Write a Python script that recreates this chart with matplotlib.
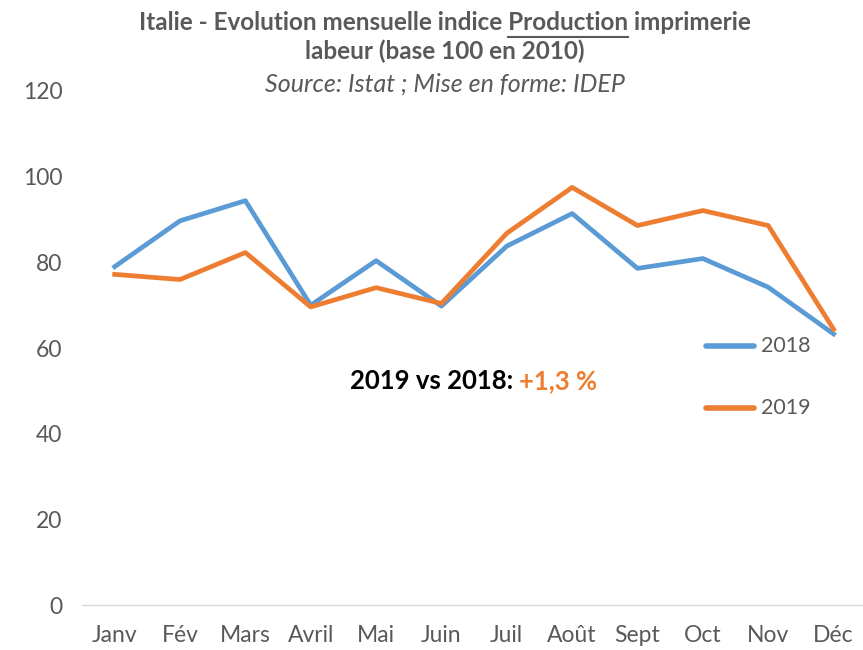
import matplotlib.pyplot as plt
from matplotlib.lines import Line2D

plt.rcParams['font.family'] = ['Lato', 'DejaVu Sans']

months = ['Janv', 'Fév', 'Mars', 'Avril', 'Mai', 'Juin', 'Juil', 'Août', 'Sept', 'Oct', 'Nov', 'Déc']
prod_2018 = [79.0, 89.7, 94.4, 70.0, 80.4, 69.8, 83.8, 91.4, 78.6, 80.9, 74.2, 63.3]
prod_2019 = [77.2, 76.0, 82.3, 69.6, 74.1, 70.4, 86.8, 97.5, 88.6, 92.1, 88.6, 64.4]
yticks = [0, 20, 40, 60, 80, 100, 120]

BLUE = '#5B9BD5'
ORANGE = '#ED7D31'
GREY = '#595959'

fig = plt.figure(figsize=(8.63, 6.5), dpi=100)
ax = fig.add_axes([0.095, 0.069, 0.905, 0.791])

x = range(len(months))
ax.plot(x, prod_2018, color=BLUE, linewidth=3.4, solid_joinstyle='round')
ax.plot(x, prod_2019, color=ORANGE, linewidth=3.4, solid_joinstyle='round')

ax.set_xlim(-0.5, 11.45)
ax.set_ylim(0, 120)
ax.set_yticks(yticks)
ax.set_xticks(list(x))
ax.set_xticklabels(months)
ax.tick_params(length=0, labelsize=16.5, labelcolor=GREY)
ax.tick_params(axis='x', pad=14)
ax.tick_params(axis='y', pad=14)
for s in ['top', 'right', 'left']:
    ax.spines[s].set_visible(False)
ax.spines['bottom'].set_color('#D9D9D9')
ax.spines['bottom'].set_linewidth(1)

# legend drawn by hand
for yy, col, lab in [(346, BLUE, '2018'), (408, ORANGE, '2019')]:
    fy = 1 - yy / 650
    fig.add_artist(Line2D([706 / 863, 754 / 863], [fy, fy], color=col,
                          linewidth=4, solid_capstyle='round'))
    fig.text(761 / 863, fy, lab, fontsize=15.5, color=GREY, va='center', ha='left')

# annotation
ANN = 18.5
t1 = fig.text(350 / 863, 1 - 381 / 650, '2019 vs 2018:', fontsize=ANN, fontweight='bold',
              color='black', va='center', ha='left')
fig.canvas.draw()
r = fig.canvas.get_renderer()
bb = t1.get_window_extent(r)
fig.text((bb.x1 + 6) / fig.bbox.width, 1 - 381 / 650, '+1,3 %', fontsize=ANN,
         fontweight='bold', color=ORANGE, va='center', ha='left')

# title
TS = 17.5
cx = 445 / 863
line1 = 'Italie - Evolution mensuelle indice Production imprimerie'
tt = fig.text(cx, 1 - 22 / 650, line1, fontsize=TS, fontweight='bold', color=GREY,
              ha='center', va='center')
fig.text(cx, 1 - 51 / 650, 'labeur (base 100 en 2010)', fontsize=TS, fontweight='bold',
         color=GREY, ha='center', va='center')
fig.text(cx, 1 - 84 / 650, 'Source: Istat ; Mise en forme: IDEP', fontsize=18, style='italic',
         color=GREY, ha='center', va='center')

# underline "Production"
fig.canvas.draw()
tb = tt.get_window_extent(r)
m1 = fig.text(0, 0, 'Italie - Evolution mensuelle indice Production', fontsize=TS, fontweight='bold')
m2 = fig.text(0, 0, 'Production', fontsize=TS, fontweight='bold')
end_x = tb.x0 + m1.get_window_extent(r).width
start_x = end_x - m2.get_window_extent(r).width
m1.remove()
m2.remove()
uy = 1 - 37 / 650
fig.add_artist(Line2D([start_x / fig.bbox.width, end_x / fig.bbox.width], [uy, uy],
                      color=GREY, linewidth=1.5))

fig.savefig('out.png', dpi=100)
